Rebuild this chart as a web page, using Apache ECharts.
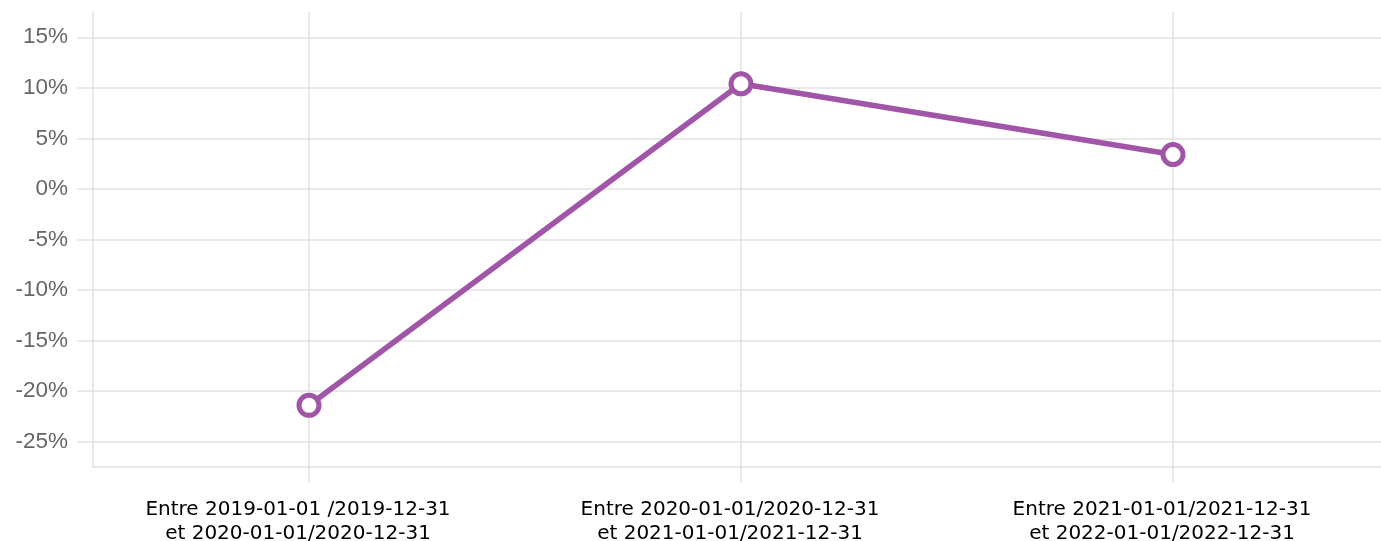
<!DOCTYPE html>
<html>
<head>
<meta charset="utf-8">
<script src="https://cdn.jsdelivr.net/npm/echarts@6/dist/echarts.min.js"></script>
<style>
  html, body { margin: 0; padding: 0; background: #fff; }
  #chart { width: 1381px; height: 541px; }
</style>
</head>
<body>
<div id="chart"></div>
<script>
// periods compared
const periods = [
  'Entre 2019-01-01 /2019-12-31\net 2020-01-01/2020-12-31',
  'Entre 2020-01-01/2020-12-31\net 2021-01-01/2021-12-31',
  'Entre 2021-01-01/2021-12-31\net 2022-01-01/2022-12-31'
]
// evolution in %
const evolution = [-21.4, 10.4, 3.4]
const yTicks = [-25, -20, -15, -10, -5, 0, 5, 10, 15]

const gridColor = '#e2e2e2'
const lineColor = '#a055a9'
const chart = echarts.init(document.getElementById('chart'))

chart.setOption({
  animation: false,
  grid: {
    left: 93,
    right: -8,
    top: 12,
    bottom: 74,
    outerBoundsMode: 'none'
  },
  xAxis: {
    type: 'category',
    data: periods,
    boundaryGap: true,
    axisLine: { show: true, onZero: false, lineStyle: { color: gridColor, width: 1.5 } },
    axisTick: { show: true, alignWithLabel: true, length: 16, lineStyle: { color: gridColor, width: 1.5 } },
    splitLine: { show: true, alignWithLabel: true, lineStyle: { color: gridColor, width: 1.5 } },
    axisLabel: {
      interval: 0,
      margin: 31,
      color: '#000',
      fontFamily: 'DejaVu Sans',
      fontSize: 20,
      lineHeight: 24,
      // labels sit a little left of their tick in the original
      padding: [0, 22, 0, 0]
    }
  },
  yAxis: {
    type: 'value',
    min: -27.5,
    max: 17.5,
    axisLine: { show: true, lineStyle: { color: gridColor, width: 1.5 } },
    axisTick: { show: true, length: 16, customValues: yTicks, lineStyle: { color: gridColor, width: 1.5 } },
    splitLine: { show: true, lineStyle: { color: gridColor, width: 1.5 } },
    axisLabel: {
      customValues: yTicks,
      margin: 25,
      color: '#666',
      fontFamily: 'Liberation Sans',
      fontSize: 22.5,
      formatter: v => v + '%'
    }
  },
  series: [{
    type: 'line',
    data: evolution,
    symbol: 'circle',
    symbolSize: 20,
    lineStyle: { color: lineColor, width: 5.5 },
    itemStyle: { color: '#fff', borderColor: lineColor, borderWidth: 5 }
  }]
})
</script>
</body>
</html>
